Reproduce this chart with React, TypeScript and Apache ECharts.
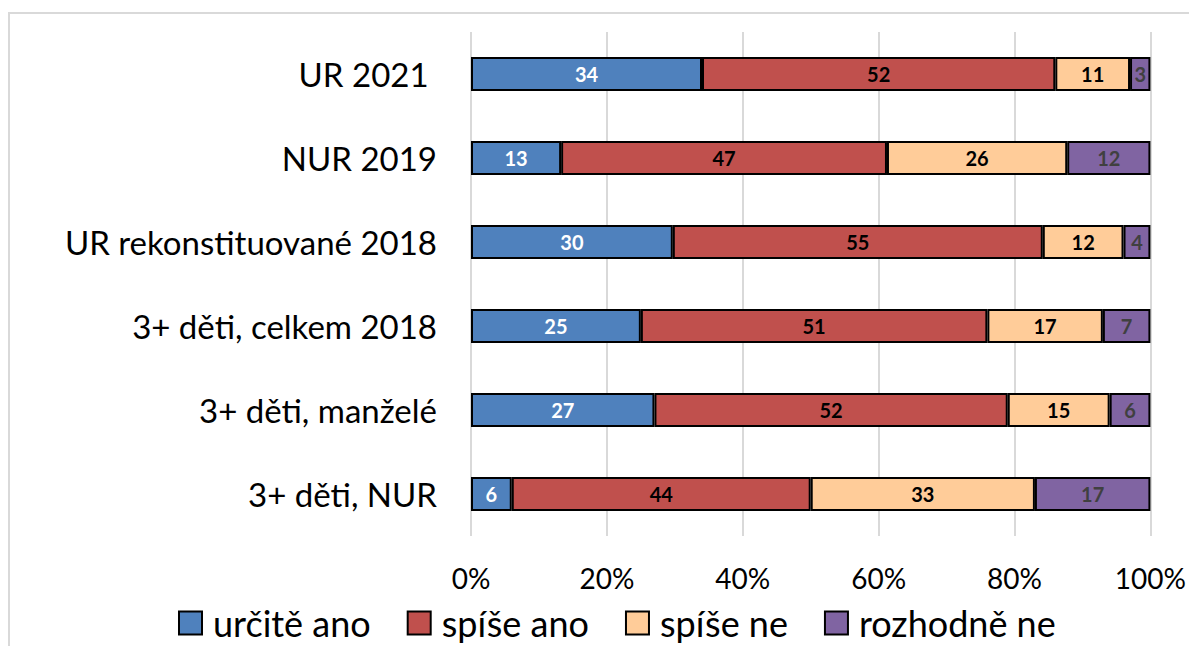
import React, { useEffect, useRef } from "react";
import * as echarts from "echarts";

const categories = [
  "UR 2021 ",
  "NUR 2019",
  "UR rekonstituované 2018",
  "3+ děti, celkem 2018",
  "3+ děti, manželé",
  "3+ děti, NUR",
];
const seriesNames = ["určitě ano", "spíše ano", "spíše ne", "rozhodně ne"];
const urciteAno = [34, 13, 30, 25, 27, 6];
const spiseAno = [52, 47, 55, 51, 52, 44];
const spiseNe = [11, 26, 12, 17, 15, 33];
const rozhodneNe = [3, 12, 4, 7, 6, 17];
const xTicks = ["0%", "20%", "40%", "60%", "80%", "100%"];

const colors = ["#4F81BD", "#C0504D", "#FFCC99", "#8064A2"];
const labelColors = ["#FFFFFF", "#000000", "#000000", "#404040"];

export default function App() {
  const ref = useRef<HTMLDivElement>(null);
  useEffect(() => {
    if (!ref.current) return;
    const chart = echarts.init(ref.current, null, { renderer: "svg" });
    const all = [urciteAno, spiseAno, spiseNe, rozhodneNe];
    const totals = categories.map((_, i) => all.reduce((s, a) => s + a[i], 0));
    const font = "Lato, 'Open Sans', sans-serif";
    const series = all.map((arr, si) => ({
      name: seriesNames[si],
      type: "bar",
      stack: "total",
      barWidth: 34,
      itemStyle: { color: colors[si], borderColor: "#000", borderWidth: 2 },
      label: {
        show: true,
        position: "inside",
        color: labelColors[si],
        fontWeight: "bold",
        fontSize: 20,
        fontFamily: font,
        formatter: (p: any) => String(p.data.raw),
      },
      data: arr.map((v, i) => ({ value: (v / totals[i]) * 100, raw: v })),
    }));
    chart.setOption({
      animation: false,
      backgroundColor: "#fff",
      graphic: [
        {
          type: "rect",
          shape: { x: 9, y: 13, width: 1300, height: 800 },
          style: { fill: "none", stroke: "#D9D9D9", lineWidth: 2 },
          z: -10,
        },
      ],
      grid: { left: 471, right: 37, top: 32, height: 504 },
      legend: {
        data: seriesNames,
        left: 173,
        top: 600,
        icon: "rect",
        itemWidth: 23,
        itemHeight: 23,
        itemGap: 36,
        textStyle: {
          fontSize: 36,
          lineHeight: 36,
          fontFamily: font,
          color: "#000",
          padding: [0, 0, 0, 6],
        },
        itemStyle: { borderColor: "#000", borderWidth: 2 },
      },
      xAxis: {
        type: "value",
        min: 0,
        max: 100,
        interval: 20,
        axisLine: { show: false },
        axisTick: { show: false },
        splitLine: { lineStyle: { color: "#D9D9D9", width: 2 } },
        axisLabel: {
          fontSize: 28,
          fontFamily: font,
          color: "#000",
          margin: 28,
          formatter: (v: number) => xTicks[Math.round(v / 20)],
        },
      },
      yAxis: {
        type: "category",
        inverse: true,
        data: categories,
        axisLine: { show: false },
        axisTick: { show: false },
        axisLabel: {
          fontSize: 33,
          fontFamily: font,
          color: "#000",
          margin: 34,
        },
      },
      series,
    });
    return () => chart.dispose();
  }, []);
  return (
    <div
      ref={ref}
      style={{ position: "fixed", left: 0, top: 0, width: 1189, height: 646 }}
    />
  );
}
